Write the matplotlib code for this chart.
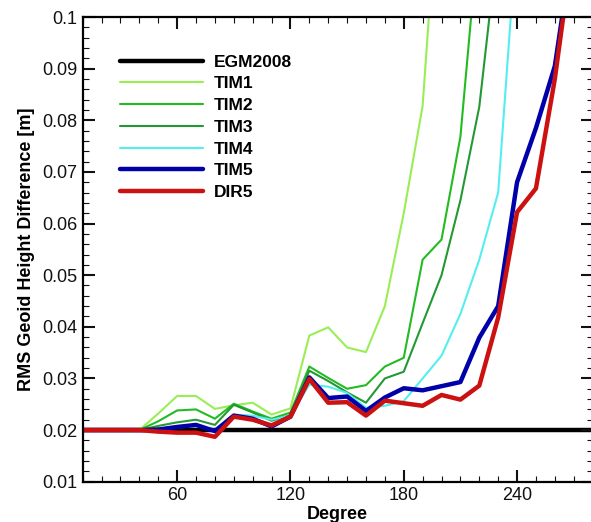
import matplotlib
matplotlib.use("Agg")
import matplotlib.pyplot as plt
from matplotlib.ticker import MultipleLocator

plt.rcParams['font.family'] = ['Liberation Sans', 'DejaVu Sans']

degrees = [10, 20, 30, 40, 50, 60, 70, 80, 90, 100, 110, 120, 130, 140, 150,
           160, 170, 180, 190, 200, 210, 220, 230, 240, 250, 260, 270, 280]

egm2008 = [0.02] * 28
tim1 = [0.0200, 0.0200, 0.0200, 0.0200, 0.0232, 0.0266, 0.0266, 0.0241, 0.0248,
        0.0253, 0.0230, 0.0242, 0.0383, 0.0399, 0.0360, 0.0351, 0.0440, 0.0620,
        0.0828, 0.1350]
tim2 = [0.0200, 0.0200, 0.0200, 0.0200, 0.0217, 0.0238, 0.0240, 0.0222, 0.0251,
        0.0236, 0.0222, 0.0234, 0.0323, 0.0301, 0.0280, 0.0287, 0.0323, 0.0340,
        0.0530, 0.0569, 0.0768, 0.1177]
tim3 = [0.0200, 0.0200, 0.0200, 0.0200, 0.0208, 0.0215, 0.0220, 0.0210, 0.0249,
        0.0234, 0.0218, 0.0229, 0.0315, 0.0295, 0.0273, 0.0253, 0.0300, 0.0313,
        0.0407, 0.0500, 0.0645, 0.0826, 0.1150]
tim4 = [0.0200, 0.0200, 0.0200, 0.0200, 0.0201, 0.0205, 0.0208, 0.0200, 0.0230,
        0.0228, 0.0220, 0.0228, 0.0288, 0.0284, 0.0272, 0.0243, 0.0247, 0.0256,
        0.0300, 0.0344, 0.0425, 0.0530, 0.0660, 0.1170]
tim5 = [0.0200, 0.0200, 0.0200, 0.0200, 0.0201, 0.0206, 0.0210, 0.0198, 0.0228,
        0.0222, 0.0207, 0.0226, 0.0302, 0.0262, 0.0265, 0.0237, 0.0263, 0.0281,
        0.0277, 0.0285, 0.0293, 0.0379, 0.0440, 0.0680, 0.0785, 0.0905, 0.1150]
dir5 = [0.0200, 0.0200, 0.0200, 0.0200, 0.0197, 0.0195, 0.0195, 0.0187, 0.0226,
        0.0220, 0.0209, 0.0226, 0.0299, 0.0253, 0.0254, 0.0228, 0.0257, 0.0252,
        0.0247, 0.0268, 0.0259, 0.0286, 0.0418, 0.0622, 0.0668, 0.0880, 0.1150]

series = [
    ("EGM2008", egm2008, "#000000", 3.2),
    ("TIM1", tim1, "#99EE55", 1.5),
    ("TIM2", tim2, "#22BB22", 1.5),
    ("TIM3", tim3, "#229933", 1.5),
    ("TIM4", tim4, "#55EEEE", 1.5),
    ("TIM5", tim5, "#0000AA", 3.2),
    ("DIR5", dir5, "#CC1111", 3.2),
]

fig = plt.figure(figsize=(5.91, 5.22), dpi=100)
ax = fig.add_axes([82.7 / 591, (522 - 481.7) / 522, (592.6 - 82.7) / 591, (481.7 - 17) / 522])

handles = []
for name, vals, col, lw in series:
    h, = ax.plot(degrees[:len(vals)], vals, color=col, lw=lw, label=name,
                 solid_joinstyle='round', solid_capstyle='round', zorder=2)
    handles.append(h)
handles[0].set_zorder(1.5)

ax.set_xlim(10, 280)
ax.set_ylim(0.01, 0.1)
ax.xaxis.set_minor_locator(MultipleLocator(10))
ax.yaxis.set_minor_locator(MultipleLocator(0.002))
ax.set_xticks([60, 120, 180, 240])
ax.set_yticks([0.01, 0.02, 0.03, 0.04, 0.05, 0.06, 0.07, 0.08, 0.09, 0.1])
ax.set_yticklabels(["0.01", "0.02", "0.03", "0.04", "0.05", "0.06", "0.07",
                    "0.08", "0.09", "0.1"])

ax.tick_params(which='both', direction='in', top=True, right=True,
               labelsize=13, colors='#111111')
ax.tick_params(which='major', length=8.5, width=1.5, pad=4)
ax.tick_params(which='minor', length=4.5, width=0.8)
for s in ax.spines.values():
    s.set_linewidth(1.6)

ax.set_xlabel("Degree", fontsize=13, fontweight='bold', labelpad=1)
ax.set_ylabel("RMS Geoid Height Difference [m]", fontsize=13, fontweight='bold',
              labelpad=5)

leg = ax.legend(handles=handles, loc='upper left',
                bbox_to_anchor=((120 - 82.7) / 509.9, (481.7 - 54.5) / 464.7),
                frameon=False, borderpad=0, borderaxespad=0,
                handlelength=4.8, handletextpad=0.6, labelspacing=0.38,
                prop={'weight': 'bold', 'size': 12.5})

fig.savefig("out.png", dpi=100)
